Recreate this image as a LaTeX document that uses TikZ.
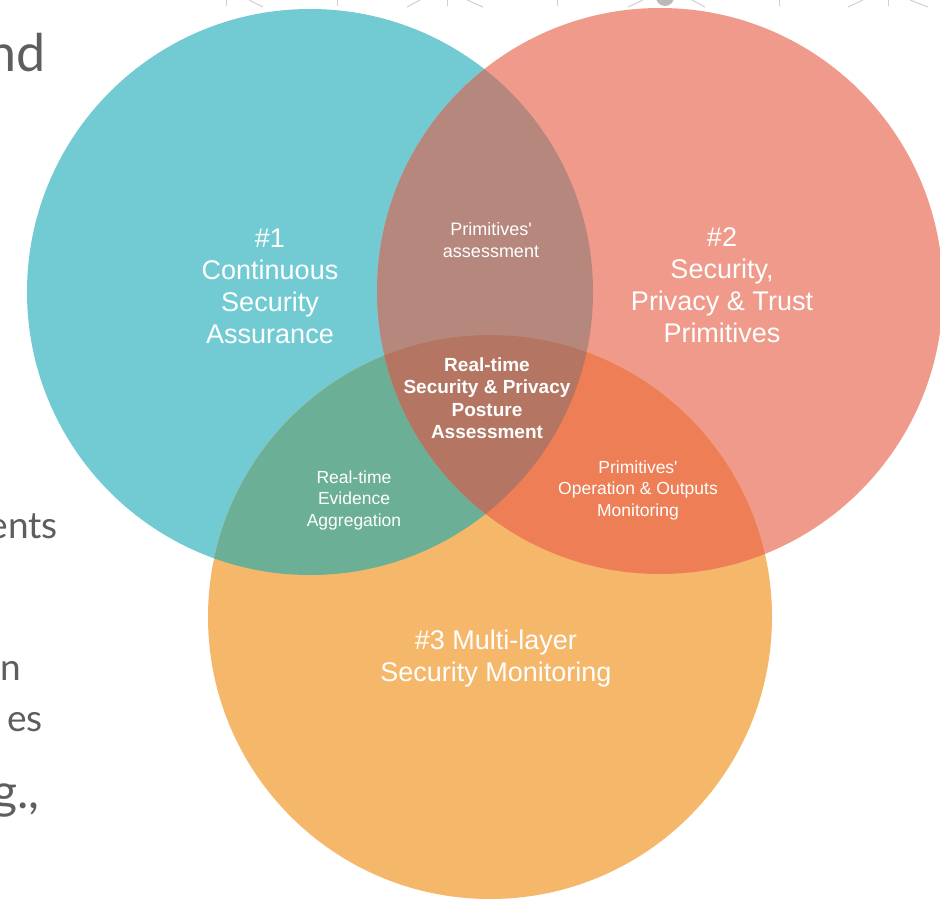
\documentclass[tikz,border=0pt]{standalone}
\usepackage{fontspec}
\setmainfont{Liberation Sans}
\newfontfamily\fragfont{Lato}
\definecolor{cteal}{HTML}{72CBD3}
\definecolor{csalmon}{HTML}{F09A8C}
\definecolor{corange}{HTML}{F5B76A}
\definecolor{cAB}{HTML}{B6877C}
\definecolor{cAC}{HTML}{6CAF97}
\definecolor{cBC}{HTML}{ED7E56}
\definecolor{cABC}{HTML}{B47662}
\definecolor{fraggray}{HTML}{5E5E5E}
\definecolor{topgray}{HTML}{D0D0D0}
\tikzset{
  big/.style={text=white, align=center, inner sep=0pt, font=\fontsize{27}{32}\selectfont},
  small/.style={text=white, align=center, inner sep=0pt, font=\fontsize{17.5}{21.5}\selectfont},
  frag/.style={text=fraggray, inner sep=0pt, anchor=base east},
  topline/.style={draw=topgray, line width=1pt}
}
\begin{document}
\begin{tikzpicture}[x=1pt,y=-1pt]
\useasboundingbox (0,0) rectangle (940,899);
\begin{scope}
\clip (0,0) rectangle (940,899);
\fill[white] (0,0) rectangle (940,899);
\coordinate (c1) at (310,292);
\coordinate (c2) at (660,291);
\coordinate (c3) at (490,617);
% base circles
\fill[cteal] (c1) circle [radius=283pt];
\fill[csalmon] (c2) circle [radius=283pt];
\fill[corange] (c3) circle [radius=282pt];
% pairwise overlaps
\begin{scope}
  \clip (c1) circle [radius=283pt];
  \fill[cAB] (c2) circle [radius=283pt];
\end{scope}
\begin{scope}
  \clip (c1) circle [radius=283pt];
  \fill[cAC] (c3) circle [radius=282pt];
\end{scope}
\begin{scope}
  \clip (c2) circle [radius=283pt];
  \fill[cBC] (c3) circle [radius=282pt];
\end{scope}
\begin{scope}
  \clip (c1) circle [radius=283pt];
  \clip (c2) circle [radius=283pt];
  \fill[cABC] (c3) circle [radius=282pt];
\end{scope}
% cropped marks along the top edge
\draw[topline] (226,0) -- (226,6);
\draw[topline] (249,0) -- (263,7);
\draw[topline] (337,0) -- (337,6);
\draw[topline] (420,0) -- (407,7);
\draw[topline] (447,0) -- (447,6);
\draw[topline] (467,0) -- (483,7);
\draw[topline] (557,0) -- (557,6);
\draw[topline] (643,0) -- (628,7);
\fill[gray!55] (665,-3) circle [radius=9pt];
\draw[topline] (692,0) -- (705,7);
\draw[topline] (779,0) -- (779,6);
\draw[topline] (863,0) -- (848,7);
\draw[topline] (888,0) -- (888,6);
\draw[topline] (910,0) -- (928,7);
% cropped text fragments at the left edge
\node[frag, font=\fragfont\fontsize{52}{52}\selectfont] (f1) at (46,72) {nd};
\node[frag, font=\fragfont\fontsize{37}{37}\selectfont] (f2) at (58,538) {ents};
\node[frag, font=\fragfont\fontsize{37}{37}\selectfont] (f3) at (21,680) {n};
\node[frag, font=\fragfont\fontsize{37}{37}\selectfont] (f4) at (43,731) {es};
\node[frag, font=\fragfont\fontsize{48}{48}\selectfont] (f5) at (40,808) {g.,};
\end{scope}
% labels
\node[big] (t1) at (270,286) {\#1\\Continuous\\Security\\Assurance};
\node[big] (t2) at (722,285) {\#2\\Security,\\Privacy \& Trust\\Primitives};
\node[big] (t3) at (496,659) {\#3 Multi-layer\\Security Monitoring};
\node[small, font=\fontsize{18}{22}\selectfont] (t12) at (491,240) {Primitives\textquotesingle\\assessment};
\node[small, font=\bfseries\fontsize{19}{22.5}\selectfont] (t123) at (487,398) {Real-time\\Security \& Privacy\\Posture\\Assessment};
\node[small] (t13) at (354,500) {Real-time\\Evidence\\Aggregation};
\node[small] (t23) at (638,490) {Primitives\textquotesingle\\Operation \& Outputs\\Monitoring};
\end{tikzpicture}
\end{document}
